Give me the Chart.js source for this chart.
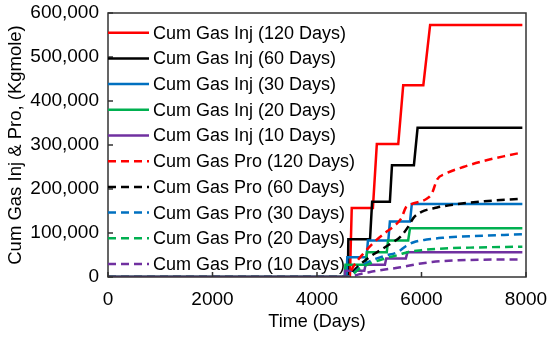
<!DOCTYPE html>
<html>
<head>
<meta charset="utf-8">
<script src="https://cdn.jsdelivr.net/npm/chart.js@4.4.1/dist/chart.umd.min.js"></script>
<style>body{margin:0;background:#fff}</style>
</head>
<body>
<canvas id="chart" width="550" height="340"></canvas>
<script>
// cumulative gas injection (step curves)
let injDays120 = [0, 4630, 4665, 5070, 5145, 5555, 5650, 6035, 6165, 7930];
let inj120 =     [0, 0, 157000, 157000, 302000, 302000, 436000, 436000, 573000, 573000];
let injDays60 =  [0, 4590, 4600, 5015, 5055, 5395, 5435, 5855, 5925, 7930];
let inj60 =      [0, 0, 86000, 86000, 171000, 171000, 254000, 254000, 339000, 339000];
let injDays30 =  [0, 4565, 4580, 4950, 4975, 5365, 5395, 5780, 5815, 7930];
let inj30 =      [0, 0, 45000, 45000, 83000, 83000, 126000, 126000, 166000, 166000];
let injDays20 =  [0, 4530, 4545, 4930, 4955, 5335, 5360, 5745, 5780, 7930];
let inj20 =      [0, 0, 28000, 28000, 56000, 56000, 83000, 83000, 111000, 111000];
let injDays10 =  [0, 4520, 4535, 4905, 4930, 5300, 5325, 5700, 5730, 7930];
let inj10 =      [0, 0, 14000, 14000, 28000, 28000, 42000, 42000, 56000, 56000];

// cumulative gas production
let proDays120 = [0, 4590, 4700, 4900, 5100, 5300, 5500, 5620, 5700, 5800, 6100, 6200, 6300, 6450, 6800, 7200, 7600, 7930];
let pro120 =     [0, 0, 25000, 55000, 80000, 100000, 118000, 135000, 158000, 165000, 178000, 190000, 222000, 234000, 250000, 264000, 275000, 283000];
let proDays60 =  [0, 4590, 4750, 5000, 5200, 5400, 5600, 5750, 5850, 6000, 6300, 6700, 7200, 7930];
let pro60 =      [0, 0, 20000, 45000, 60000, 75000, 92000, 115000, 135000, 148000, 158000, 166000, 172000, 178000];
let proDays30 =  [0, 4590, 4800, 5000, 5300, 5550, 5700, 5850, 6100, 6400, 7000, 7930];
let pro30 =      [0, 0, 20000, 35000, 48000, 57000, 70000, 79000, 85000, 89000, 93000, 97000];
let proDays20 =  [0, 4590, 4800, 5000, 5300, 5550, 5750, 6000, 6300, 7000, 7930];
let pro20 =      [0, 0, 18000, 30000, 42000, 50000, 57000, 61000, 64000, 67000, 69000];
let proDays10 =  [0, 4590, 4800, 5000, 5300, 5600, 5950, 6200, 6700, 7930];
let pro10 =      [0, 0, 6000, 11000, 17000, 22000, 30000, 34000, 38000, 40000];

let xTicks = [0, 2000, 4000, 6000, 8000];
let yTicks = [0, 100000, 200000, 300000, 400000, 500000, 600000];

const RED = '#ff0000', BLACK = '#000000', BLUE = '#0070c0', GREEN = '#00b050', PURPLE = '#7030a0';
const FONT = '"Liberation Sans", Arial, sans-serif';

function pts(days, vals) {
    return days.map((d, i) => ({x: d, y: vals[i]}));
}

function series(label, days, vals, color, dashed, idx) {
    return {
        label: label,
        data: pts(days, vals),
        borderColor: color,
        backgroundColor: color,
        borderWidth: 2.5,
        borderDash: dashed ? [8, 5] : [],
        pointRadius: 0,
        fill: false,
        cubicInterpolationMode: dashed ? 'monotone' : 'default',
        tension: 0,
        order: 10 - idx   // later series drawn on top, like the original
    };
}

// box round the plot and short inward tick marks
const frame = {
    id: 'frame',
    afterDatasetsDraw(chart) {
        const {ctx, chartArea: a, scales} = chart;
        ctx.save();
        ctx.strokeStyle = '#333';
        ctx.lineWidth = 1.5;
        ctx.beginPath();
        scales.x.ticks.forEach(t => {
            const px = scales.x.getPixelForValue(t.value);
            ctx.moveTo(px, a.bottom); ctx.lineTo(px, a.bottom - 5);
        });
        scales.y.ticks.forEach(t => {
            const py = scales.y.getPixelForValue(t.value);
            ctx.moveTo(a.left, py); ctx.lineTo(a.left + 5, py);
        });
        ctx.stroke();
        ctx.strokeRect(a.left, a.top, a.right - a.left, a.bottom - a.top);
        ctx.restore();
    }
};

// legend inside the plot, top left
const insideLegend = {
    id: 'insideLegend',
    afterDatasetsDraw(chart) {
        const {ctx, chartArea: a} = chart;
        ctx.save();
        ctx.font = '18px ' + FONT;
        ctx.textBaseline = 'middle';
        ctx.fillStyle = '#000';
        chart.data.datasets.forEach((ds, i) => {
            const y = a.top + 19.7 + i * 25.7;
            ctx.strokeStyle = ds.borderColor;
            ctx.lineWidth = ds.borderWidth;
            ctx.setLineDash(ds.borderDash);
            ctx.beginPath();
            ctx.moveTo(a.left, y);
            ctx.lineTo(a.left + 41, y);
            ctx.stroke();
            ctx.fillText(ds.label, a.left + 45, y + 1);
        });
        ctx.restore();
    }
};

Chart.defaults.font.family = FONT;
Chart.defaults.color = '#000';

const ctx = document.getElementById('chart').getContext('2d');
const chart = new Chart(ctx, {
    type: 'line',
    data: {
        datasets: [
            series('Cum Gas Inj (120 Days)', injDays120, inj120, RED, false, 0),
            series('Cum Gas Inj (60 Days)', injDays60, inj60, BLACK, false, 1),
            series('Cum Gas Inj (30 Days)', injDays30, inj30, BLUE, false, 2),
            series('Cum Gas Inj (20 Days)', injDays20, inj20, GREEN, false, 3),
            series('Cum Gas Inj (10 Days)', injDays10, inj10, PURPLE, false, 4),
            series('Cum Gas Pro (120 Days)', proDays120, pro120, RED, true, 5),
            series('Cum Gas Pro (60 Days)', proDays60, pro60, BLACK, true, 6),
            series('Cum Gas Pro (30 Days)', proDays30, pro30, BLUE, true, 7),
            series('Cum Gas Pro (20 Days)', proDays20, pro20, GREEN, true, 8),
            series('Cum Gas Pro (10 Days)', proDays10, pro10, PURPLE, true, 9)
        ]
    },
    options: {
        responsive: false,
        animation: false,
        devicePixelRatio: 1,
        locale: 'en-US',
        layout: {padding: {top: 13, right: 24, left: 0, bottom: 0}},
        plugins: {
            title: {display: false},
            tooltip: {enabled: false},
            legend: {display: false}
        },
        scales: {
            x: {
                type: 'linear',
                min: 0,
                max: 8000,
                afterBuildTicks: s => { s.ticks = xTicks.map(v => ({value: v})); },
                afterFit: s => { s.height = 63; s.paddingLeft = 0; s.paddingRight = 0; },
                grid: {display: false, drawTicks: false},
                border: {display: false},
                ticks: {padding: 11, font: {size: 19}, maxRotation: 0, callback: v => String(v)},
                title: {display: true, text: 'Time (Days)', font: {size: 18}, padding: {top: 0, bottom: 7}}
            },
            y: {
                min: 0,
                max: 600000,
                afterBuildTicks: s => { s.ticks = yTicks.map(v => ({value: v})); },
                afterFit: s => { s.width = 108; s.paddingTop = 0; s.paddingBottom = 0; },
                grid: {display: false, drawTicks: false},
                border: {display: false},
                ticks: {padding: 9, font: {size: 19}},
                title: {display: true, text: 'Cum Gas Inj & Pro, (Kgmole)', font: {size: 18.5}, padding: {top: 5, bottom: 0}}
            }
        }
    },
    plugins: [frame, insideLegend]
});
</script>
</body>
</html>
